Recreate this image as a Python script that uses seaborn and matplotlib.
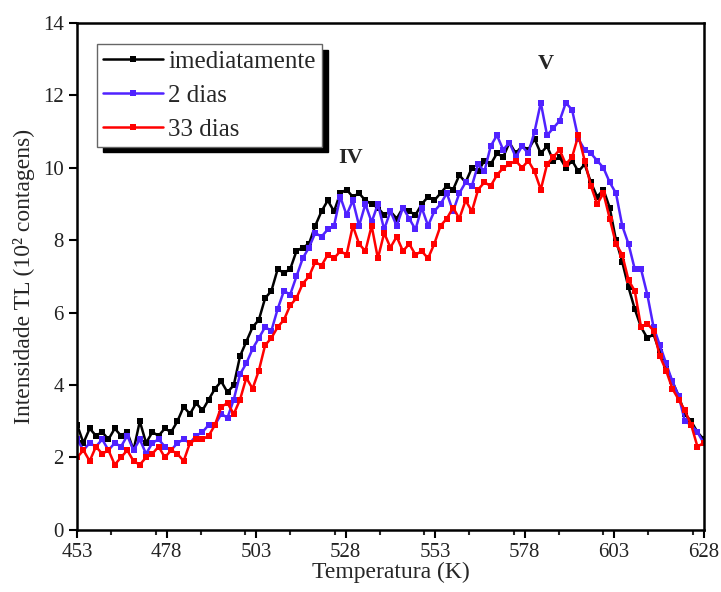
import numpy as np
import pandas as pd
import matplotlib
matplotlib.use('Agg')
import matplotlib.pyplot as plt
from matplotlib.ticker import MultipleLocator
import seaborn as sns

# temperature grid (K)
temperatura = np.linspace(453, 628, 101)

imediatamente = [2.9, 2.4, 2.8, 2.6, 2.7, 2.5, 2.8, 2.6, 2.7, 2.2, 3.0, 2.4, 2.7, 2.6,
                 2.8, 2.7, 3.0, 3.4, 3.2, 3.5, 3.3, 3.6,
                 3.9, 4.1, 3.8, 4.0, 4.8, 5.2,
                 5.6, 5.8, 6.4, 6.6, 7.2, 7.1,
                 7.2, 7.7, 7.8, 7.9, 8.4, 8.8,
                 9.1, 8.8, 9.3, 9.4, 9.2, 9.3, 9.1,
                 9.0, 8.9, 8.7, 8.8, 8.6, 8.9, 8.8, 8.7, 9.0, 9.2, 9.1,
                 9.3, 9.5, 9.4, 9.8, 9.6, 10.0, 9.9, 10.2, 10.1,
                 10.4, 10.3, 10.7, 10.4, 10.6, 10.5, 10.8, 10.4, 10.6, 10.2,
                 10.3, 10.0, 10.2, 9.9, 10.1, 9.6, 9.2, 9.4, 8.9,
                 8.0, 7.4, 6.7, 6.1, 5.6, 5.3, 5.4, 4.9, 4.5, 4.1, 3.7, 3.2, 3.0, 2.7, 2.5]

dias_2 = [2.5, 2.2, 2.4, 2.3, 2.5, 2.2, 2.4, 2.3, 2.6, 2.2, 2.5, 2.1, 2.4, 2.5,
          2.3, 2.2, 2.4, 2.5, 2.4, 2.6, 2.7, 2.9,
          2.9, 3.2, 3.1, 3.6, 4.3, 4.6,
          5.0, 5.3, 5.6, 5.5, 6.1, 6.6,
          6.5, 7.0, 7.5, 7.8, 8.2, 8.1,
          8.3, 8.4, 9.2, 8.7, 9.1, 8.4, 9.0,
          8.5, 9.0, 8.3, 8.8, 8.4, 8.9, 8.6, 8.3, 8.9, 8.4, 8.8,
          9.0, 9.3, 8.8, 9.3, 9.6, 9.5, 10.1, 9.9, 10.6,
          10.9, 10.5, 10.7, 10.3, 10.6, 10.4, 11.0, 11.8, 10.9, 11.1,
          11.3, 11.8, 11.6, 10.8, 10.5, 10.4, 10.2, 10.0, 9.6,
          9.3, 8.4, 7.9, 7.2, 7.2, 6.5, 5.6, 5.1, 4.6, 4.1, 3.7, 3.0, 2.9, 2.7, 2.4]

dias_33 = [2.0, 2.2, 1.9, 2.3, 2.1, 2.2, 1.8, 2.0, 2.2, 1.9, 1.8, 2.0, 2.1, 2.3,
           2.0, 2.2, 2.1, 1.9, 2.4, 2.5, 2.5, 2.6,
           2.9, 3.4, 3.5, 3.2, 3.6, 4.2,
           3.9, 4.4, 5.1, 5.3, 5.6, 5.8,
           6.2, 6.4, 6.8, 7.0, 7.4, 7.3,
           7.6, 7.5, 7.7, 7.6, 8.4, 7.9, 7.7,
           8.4, 7.5, 8.2, 7.8, 8.1, 7.7, 7.9, 7.6, 7.7, 7.5, 7.9,
           8.4, 8.6, 8.9, 8.6, 9.1, 8.8, 9.4, 9.6, 9.5,
           9.8, 10.0, 10.1, 10.2, 10.0, 10.2, 9.9, 9.4, 10.1, 10.3,
           10.5, 10.1, 10.3, 10.9, 10.2, 9.5, 9.0, 9.3, 8.6,
           7.9, 7.6, 6.9, 6.6, 5.6, 5.7, 5.5, 4.8, 4.4, 3.9, 3.6, 3.3, 2.9, 2.3, 2.4]

series = ['imediatamente', '2 dias', '33 dias']
cores = ['#000000', '#5022ff', '#ff0000']

df = pd.DataFrame({'T': temperatura, 'imediatamente': imediatamente,
                   '2 dias': dias_2, '33 dias': dias_33})
df = df.melt(id_vars='T', var_name='serie', value_name='I')

sns.set_style('ticks')
plt.rcParams['font.family'] = ['Liberation Serif', 'DejaVu Serif']

fig, ax = plt.subplots(figsize=(7.21, 5.92), dpi=100)
fig.subplots_adjust(left=0.107, right=0.976, top=0.961, bottom=0.105)

sns.lineplot(data=df, x='T', y='I', hue='serie', hue_order=series,
             palette=cores, marker='s', markersize=4, markeredgewidth=0,
             linewidth=1.8, legend=False, ax=ax)

ax.set_xlim(453, 628)
ax.set_ylim(0, 14)
ax.set_xticks([453, 478, 503, 528, 553, 578, 603, 628])
ax.xaxis.set_minor_locator(MultipleLocator(12.5))
ax.set_yticks(range(0, 15, 2))
ax.tick_params(axis='both', which='major', direction='out', length=6, width=1.5,
               labelsize=15, color='black', labelcolor='#222222')
ax.tick_params(axis='x', which='minor', direction='out', length=3.5, width=1.5)
for sp in ax.spines.values():
    sp.set_linewidth(1.8)
    sp.set_color('black')
    sp.set_visible(True)

ax.set_xlabel('Temperatura (K)', fontsize=17, labelpad=0)
ax.set_ylabel('Intensidade TL (10² contagens)', fontsize=17, labelpad=6)

ax.text(529.5, 10.0, 'IV', fontsize=16, fontweight='bold', ha='center', va='bottom')
ax.text(584, 12.6, 'V', fontsize=16, fontweight='bold', ha='center', va='bottom')

handles = [plt.Line2D([], [], color=c, marker='s', markersize=4, markeredgewidth=0,
                      linewidth=1.8) for c in cores]
leg = ax.legend(handles, series, loc='upper left', bbox_to_anchor=(0.032, 0.958),
                fontsize=18, frameon=True, fancybox=False, handlelength=2.4,
                handletextpad=0.2, labelspacing=0.45, borderpad=0.25,
                borderaxespad=0.0,
                shadow={'color': 'black', 'alpha': 1, 'ox': 4, 'oy': -4})
leg.get_frame().set_edgecolor('#666666')
leg.get_frame().set_linewidth(1.0)

plt.savefig('out.png', dpi=100)
